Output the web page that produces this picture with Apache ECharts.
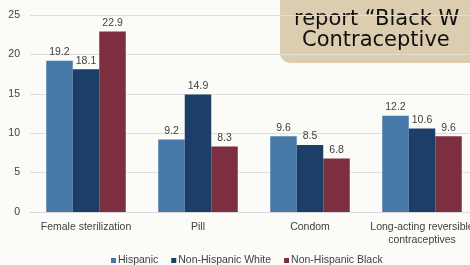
<!DOCTYPE html>
<html>
<head>
<meta charset="utf-8">
<script src="https://cdn.jsdelivr.net/npm/echarts@6/dist/echarts.min.js"></script>
<style>
  html, body { margin: 0; padding: 0; background: #fbfbf8; }
  #chart { width: 470px; height: 265px; }
</style>
</head>
<body>
<div id="chart"></div>
<script>
var methods = ['Female sterilization', 'Pill', 'Condom', 'Long-acting reversible\ncontraceptives'];
var hispanic = [19.2, 9.2, 9.6, 12.2];
var nhWhite = [18.1, 14.9, 8.5, 10.6];
var nhBlack = [22.9, 8.3, 6.8, 9.6];
var groups = ['Hispanic', 'Non-Hispanic White', 'Non-Hispanic Black'];

var barLabel = {
    show: true,
    position: 'top',
    distance: 3,
    color: '#404040',
    fontSize: 10.5,
    fontFamily: 'Liberation Sans'
};

echarts.init(document.getElementById('chart')).setOption({
    backgroundColor: '#fbfbf8',
    color: ['#4679a8', '#1e3e6a', '#7e2f3f'],
    grid: {
        left: 30,
        width: 448,
        top: 15,
        bottom: 53,
        containLabel: false,
        outerBoundsMode: 'none'
    },
    legend: {
        data: groups,
        top: 250,
        left: 106,
        itemWidth: 5,
        itemHeight: 5,
        itemGap: 13,
        icon: 'rect',
        textStyle: {
            color: '#404040',
            fontSize: 10.5,
            fontFamily: 'Liberation Sans',
            padding: [0, 0, 0, -3]
        }
    },
    xAxis: {
        type: 'category',
        data: methods,
        axisTick: { show: false },
        axisLine: { lineStyle: { color: '#d9d9d9' } },
        axisLabel: {
            interval: 0,
            color: '#404040',
            fontSize: 10.5,
            fontFamily: 'Liberation Sans',
            margin: 9,
            lineHeight: 13
        }
    },
    yAxis: {
        type: 'value',
        min: 0,
        max: 25,
        interval: 5,
        axisLine: { show: false },
        axisTick: { show: false },
        splitLine: { lineStyle: { color: '#dedede' } },
        axisLabel: {
            color: '#404040',
            fontSize: 10.5,
            fontFamily: 'Liberation Sans',
            margin: 10
        }
    },
    series: [
        { name: groups[0], type: 'bar', data: hispanic, barGap: '0%', barCategoryGap: '29%', label: barLabel },
        { name: groups[1], type: 'bar', data: nhWhite, barGap: '0%', barCategoryGap: '29%', label: barLabel },
        { name: groups[2], type: 'bar', data: nhBlack, barGap: '0%', barCategoryGap: '29%', label: barLabel }
    ],
    graphic: [
        {
            type: 'rect',
            shape: { x: 280, y: -20, width: 220, height: 83, r: 10 },
            style: { fill: '#dccdb0' }
        },
        {
            type: 'text',
            left: 294,
            top: 9,
            style: {
                text: 'report \u201cBlack W',
                fill: '#111',
                fontSize: 21,
                fontFamily: 'DejaVu Sans'
            }
        },
        {
            type: 'text',
            left: 302,
            top: 30,
            style: {
                text: 'Contraceptive',
                fill: '#111',
                fontSize: 21,
                fontFamily: 'DejaVu Sans'
            }
        }
    ]
});
</script>
</body>
</html>
